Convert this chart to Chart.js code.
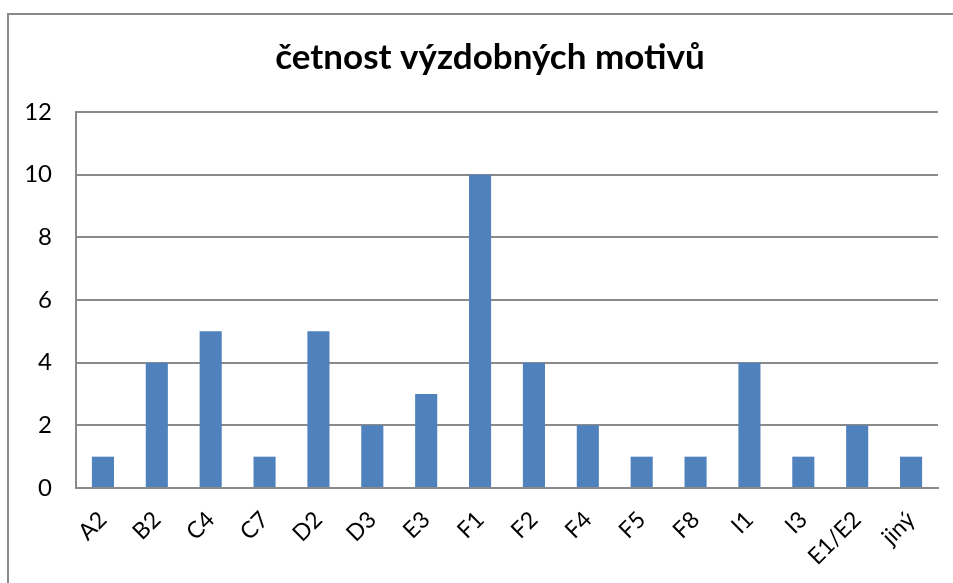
<!DOCTYPE html>
<html>
<head>
<meta charset="utf-8">
<script src="https://cdn.jsdelivr.net/npm/chart.js@4"></script>
<style>
  html, body { margin: 0; padding: 0; background: #fff; }
  #ram { position: absolute; left: 7px; top: 13px; width: 960px; height: 600px;
         border-left: 2px solid #8a8a8a; border-top: 2px solid #8a8a8a; }
  #obal { position: absolute; left: 0; top: 0; width: 953px; height: 583px; }
</style>
</head>
<body>
<div id="ram"></div>
<div id="obal"><canvas id="graf"></canvas></div>
<script>
const motivy = ['A2', 'B2', 'C4', 'C7', 'D2', 'D3', 'E3', 'F1', 'F2', 'F4', 'F5', 'F8', 'I1', 'I3', 'E1/E2', 'jiný'];
const cetnosti = [1, 4, 5, 1, 5, 2, 3, 10, 4, 2, 1, 1, 4, 1, 2, 1];
const nadpis = 'četnost výzdobných motivů';
const osaYMax = 12;
const osaYKrok = 2;

const pismo = 'Lato, "Open Sans", sans-serif';

// nadpis je v predloze posunuty doprava od stredu platna, proto vlastni kresleni
const nadpisPlugin = {
    id: 'nadpisPlugin',
    afterDraw(chart) {
        const c = chart.ctx;
        c.save();
        c.font = 'bold 35px ' + pismo;
        c.fillStyle = '#000';
        c.textAlign = 'center';
        c.textBaseline = 'middle';
        c.fillText(nadpis, 490, 58);
        c.restore();
    }
};

const ctx = document.getElementById('graf').getContext('2d');
new Chart(ctx, {
    type: 'bar',
    data: {
        labels: motivy,
        datasets: [{
            data: cetnosti,
            backgroundColor: '#4f81bd',
            borderWidth: 0,
            barPercentage: 0.41,
            categoryPercentage: 1
        }]
    },
    options: {
        responsive: true,
        maintainAspectRatio: false,
        animation: false,
        layout: { padding: { left: 0, right: 15, top: 112, bottom: 0 } },
        plugins: {
            legend: { display: false },
            tooltip: { enabled: false },
            title: { display: false }
        },
        scales: {
            x: {
                grid: { display: false, drawTicks: false },
                border: { color: '#8a8a8a', width: 2 },
                ticks: {
                    color: '#000',
                    font: { family: pismo, size: 23 },
                    minRotation: 45,
                    maxRotation: 45,
                    autoSkip: false,
                    padding: 18
                },
                afterFit: (osa) => { osa.height = 95; }
            },
            y: {
                min: 0,
                max: osaYMax,
                ticks: {
                    stepSize: osaYKrok,
                    color: '#000',
                    font: { family: pismo, size: 24 },
                    padding: 24
                },
                grid: { color: '#8a8a8a', lineWidth: 2, drawTicks: false },
                border: { color: '#8a8a8a', width: 2 },
                afterFit: (osa) => { osa.width = 76; }
            }
        }
    },
    plugins: [nadpisPlugin]
});
</script>
</body>
</html>
